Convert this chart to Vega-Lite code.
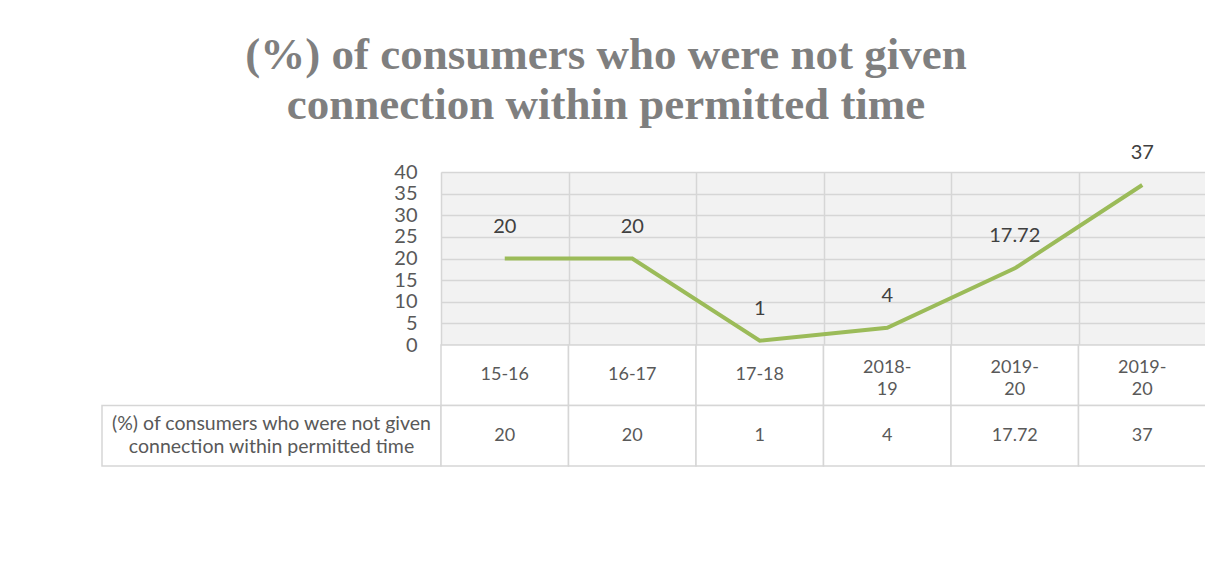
{
  "$schema": "https://vega.github.io/schema/vega-lite/v6.json",
  "padding": {"left": 101, "top": 32, "right": 0, "bottom": 0},
  "background": "white",
  "title": {
    "text": ["(%) of consumers who were not given", "connection within permitted time"],
    "font": "Liberation Serif",
    "fontWeight": "bold",
    "fontSize": 45,
    "lineHeight": 50,
    "color": "#7f7f7f",
    "anchor": "middle",
    "dx": -48,
    "offset": 15
  },
  "datasets": {
    "main": [
      {"col": 1, "period": "15-16", "label": "15-16", "value": 20},
      {"col": 2, "period": "16-17", "label": "16-17", "value": 20},
      {"col": 3, "period": "17-18", "label": "17-18", "value": 1},
      {"col": 4, "period": "2018-19", "label": "2018-\n19", "value": 4},
      {"col": 5, "period": "2019-20", "label": "2019-\n20", "value": 17.72},
      {"col": 6, "period": "2019-20", "label": "2019-\n20", "value": 37}
    ]
  },
  "columns": 2,
  "spacing": 0,
  "bounds": "flush",
  "concat": [
    {
      "width": 339,
      "height": 173,
      "data": {"values": []},
      "mark": {"type": "text"},
      "encoding": {}
    },
    {
      "width": 765,
      "height": 173,
      "data": {"name": "main"},
      "view": {"fill": "#f2f2f2", "stroke": null},
      "encoding": {
        "x": {
          "field": "col",
          "type": "ordinal",
          "bandPosition": 0.5,
          "scale": {"type": "band", "paddingInner": 0, "paddingOuter": 0},
          "axis": {"labels": false, "ticks": false, "domain": false, "title": null, "grid": true, "tickBand": "extent", "gridColor": "#d6d6d6", "gridWidth": 1.5}
        },
        "y": {
          "field": "value",
          "type": "quantitative",
          "scale": {"domain": [0, 40], "nice": false},
          "axis": {"values": [0, 5, 10, 15, 20, 25, 30, 35, 40], "title": null, "domain": false, "ticks": false, "labelFontSize": 20, "labelColor": "#595959", "labelPadding": 24, "labelFont": "Lato", "gridColor": "#d6d6d6", "gridWidth": 1.5}
        }
      },
      "layer": [
        {"mark": {"type": "line", "color": "#9bbb59", "strokeWidth": 4}},
        {
          "mark": {"type": "text", "dy": -32, "fontSize": 20, "font": "Lato", "color": "#404040"},
          "encoding": {"text": {"field": "value", "type": "quantitative"}}
        }
      ]
    },
    {
      "width": 339,
      "height": 121,
      "data": {"values": [{"series": "(%) of consumers who were not given\nconnection within permitted time"}]},
      "layer": [
        {
          "mark": {"type": "rect", "fill": "white", "stroke": "#d6d6d6", "strokeWidth": 1.5},
          "encoding": {
            "y": {"datum": "val", "type": "nominal", "scale": {"type": "band", "domain": ["cat", "val"], "paddingInner": 0, "paddingOuter": 0}, "axis": null}
          }
        },
        {
          "mark": {"type": "text", "lineBreak": "\n", "fontSize": 19.5, "font": "Lato", "color": "#595959", "lineHeight": 23, "dy": -11.5},
          "encoding": {
            "y": {"datum": "val", "type": "nominal", "scale": {"type": "band", "domain": ["cat", "val"], "paddingInner": 0, "paddingOuter": 0}, "axis": null},
            "text": {"field": "series", "type": "nominal"}
          }
        }
      ]
    },
    {
      "width": 765,
      "height": 121,
      "data": {"name": "main"},
      "encoding": {
        "x": {"field": "col", "type": "ordinal", "scale": {"type": "band", "paddingInner": 0, "paddingOuter": 0}, "axis": null}
      },
      "layer": [
        {
          "mark": {"type": "rect", "fill": "white", "stroke": "#d6d6d6", "strokeWidth": 1.5},
          "encoding": {"y": {"datum": "cat", "type": "nominal", "scale": {"type": "band", "domain": ["cat", "val"], "paddingInner": 0, "paddingOuter": 0}, "axis": null}}
        },
        {
          "mark": {"type": "rect", "fill": "white", "stroke": "#d6d6d6", "strokeWidth": 1.5},
          "encoding": {"y": {"datum": "val", "type": "nominal", "scale": {"type": "band", "domain": ["cat", "val"], "paddingInner": 0, "paddingOuter": 0}, "axis": null}}
        },
        {
          "transform": [{"filter": "indexof(datum.label, '\\n') < 0"}],
          "mark": {"type": "text", "fontSize": 18, "font": "Lato", "color": "#595959"},
          "encoding": {
            "y": {"datum": "cat", "type": "nominal", "scale": {"type": "band", "domain": ["cat", "val"], "paddingInner": 0, "paddingOuter": 0}, "axis": null},
            "text": {"field": "label", "type": "nominal"}
          }
        },
        {
          "transform": [{"filter": "indexof(datum.label, '\\n') >= 0"}],
          "mark": {"type": "text", "lineBreak": "\n", "fontSize": 18, "font": "Lato", "color": "#595959", "lineHeight": 22, "dy": -7},
          "encoding": {
            "y": {"datum": "cat", "type": "nominal", "scale": {"type": "band", "domain": ["cat", "val"], "paddingInner": 0, "paddingOuter": 0}, "axis": null},
            "text": {"field": "label", "type": "nominal"}
          }
        },
        {
          "mark": {"type": "text", "fontSize": 18, "font": "Lato", "color": "#595959"},
          "encoding": {
            "y": {"datum": "val", "type": "nominal", "scale": {"type": "band", "domain": ["cat", "val"], "paddingInner": 0, "paddingOuter": 0}, "axis": null},
            "text": {"field": "value", "type": "quantitative"}
          }
        }
      ]
    }
  ],
  "config": {"view": {"stroke": null}, "font": "Lato"}
}
